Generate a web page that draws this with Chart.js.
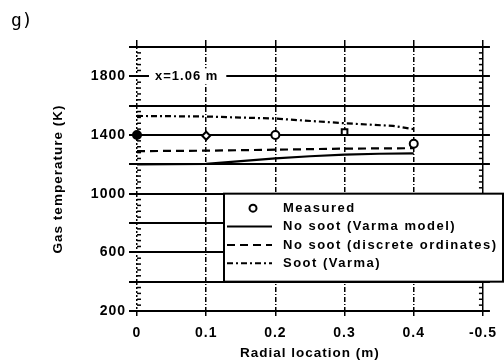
<!DOCTYPE html>
<html><head><meta charset="utf-8">
<script src="https://cdn.jsdelivr.net/npm/chart.js@4.4.1/dist/chart.umd.min.js"></script>
<style>html,body{margin:0;padding:0;background:#fff;} canvas{display:block;}</style>
</head><body>
<canvas id="c" width="504" height="364"></canvas>
<script>
const radialTicks = [0, 0.1, 0.2, 0.3, 0.4, 0.5];
const xTickLabels = ['0', '0.1', '0.2', '0.3', '0.4', '-0.5'];
const yTickLabels = [200, 600, 1000, 1400, 1800];
const measuredR = [0, 0.1, 0.2, 0.3, 0.4];
const measuredT = [1400, 1395, 1400, 1420, 1340];
const varmaR = [0, 0.1, 0.15, 0.2, 0.25, 0.3, 0.35, 0.4];
const varmaT = [1200, 1203, 1222, 1240, 1255, 1266, 1272, 1275];
const discreteR = [0, 0.1, 0.2, 0.3, 0.4];
const discreteT = [1290, 1293, 1300, 1307, 1310];
const sootR = [0, 0.1, 0.2, 0.3, 0.37, 0.4];
const sootT = [1530, 1526, 1512, 1480, 1462, 1440];
const seriesLabels = ['Measured', 'No soot (Varma model)', 'No soot (discrete ordinates)', 'Soot (Varma)'];
const panelLabel = 'g)';
const locationNote = 'x=1.06 m';

const zip = (xs, ys) => xs.map((x, i) => ({x: x, y: ys[i]}));
const FONT = "'Liberation Sans', Arial, sans-serif";
Chart.defaults.font.family = FONT;
Chart.defaults.color = '#000';

const setTicks = s => { s.ticks = radialTicks.map(v => ({value: v})); };

const spacing = {
  id: 'spacing',
  beforeDraw(chart) { chart.ctx.letterSpacing = '1px'; }
};

const extras = {
  id: 'extras',
  afterDraw(chart) {
    const ctx = chart.ctx;
    const xs = chart.scales.x, ys = chart.scales.y;
    ctx.save();
    ctx.letterSpacing = '0px';
    // panel label
    ctx.fillStyle = '#000';
    ctx.font = "18px 'DejaVu Sans Mono', monospace";
    ctx.textBaseline = 'middle';
    ctx.textAlign = 'left';
    ctx.fillText(panelLabel, 11, 21);
    // minor ticks on left and right frame
    ctx.strokeStyle = '#000';
    ctx.lineWidth = 1.5;
    const xl = xs.getPixelForValue(0), xr = xs.getPixelForValue(0.5);
    for (let v = 240; v < 2000; v += 40) {
      if (v % 200 === 0) continue;
      const py = ys.getPixelForValue(v);
      ctx.beginPath(); ctx.moveTo(xl, py); ctx.lineTo(xl + 4, py); ctx.stroke();
      ctx.beginPath(); ctx.moveTo(xr - 4, py); ctx.lineTo(xr, py); ctx.stroke();
    }
    // location note
    ctx.letterSpacing = '1px';
    ctx.font = "bold 13px " + FONT;
    const nx = xs.getPixelForValue(0.026), ny = ys.getPixelForValue(1800);
    const w = ctx.measureText(locationNote).width;
    ctx.fillStyle = '#fff';
    ctx.fillRect(nx - 6, ny - 8, w + 14, 16);
    ctx.fillStyle = '#000';
    ctx.fillText(locationNote, nx, ny);
    // legend box
    const top = ys.getPixelForValue(1000), bottom = ys.getPixelForValue(400);
    const left = 224, right = 503;
    ctx.fillStyle = '#fff';
    ctx.fillRect(left, top, right - left, bottom - top);
    ctx.lineWidth = 2;
    ctx.strokeRect(left, top, right - left, bottom - top);
    chart.data.datasets.forEach((ds, i) => {
      const ry = top + 14.5 + i * 18.4;
      if (ds.showLine === false) {
        ctx.beginPath();
        ctx.arc(253, ry, 3.5, 0, Math.PI * 2);
        ctx.fillStyle = '#fff'; ctx.fill();
        ctx.lineWidth = 2; ctx.strokeStyle = '#000'; ctx.stroke();
      } else {
        ctx.beginPath();
        ctx.setLineDash(ds.borderDash || []);
        ctx.lineWidth = 2; ctx.strokeStyle = '#000';
        ctx.moveTo(227, ry); ctx.lineTo(272, ry); ctx.stroke();
        ctx.setLineDash([]);
      }
      ctx.fillStyle = '#000';
      ctx.letterSpacing = '1.5px';
      ctx.font = "bold 13px " + FONT;
      ctx.textAlign = 'left';
      ctx.textBaseline = 'middle';
      ctx.fillText(ds.label, 283, ry);
    });
    ctx.restore();
  }
};

new Chart(document.getElementById('c'), {
  type: 'line',
  data: {
    datasets: [
      {label: seriesLabels[0], data: zip(measuredR, measuredT), showLine: false, clip: false,
       pointStyle: ['circle', 'rectRot', 'circle', 'rect', 'circle'],
       pointBackgroundColor: ['#000', '#fff', '#fff', '#fff', '#fff'],
       pointBorderColor: '#000', pointBorderWidth: 2, pointRadius: 4, borderColor: '#000'},
      {label: seriesLabels[1], data: zip(varmaR, varmaT), borderColor: '#000', borderWidth: 2.2,
       pointRadius: 0, tension: 0, fill: false},
      {label: seriesLabels[2], data: zip(discreteR, discreteT), borderColor: '#000', borderWidth: 2.2,
       borderDash: [8, 5], pointRadius: 0, tension: 0, fill: false},
      {label: seriesLabels[3], data: zip(sootR, sootT), borderColor: '#000', borderWidth: 2.2,
       borderDash: [6, 3, 2, 3], pointRadius: 0, tension: 0, fill: false}
    ]
  },
  options: {
    responsive: false,
    animation: false,
    devicePixelRatio: 1,
    layout: {padding: 0},
    plugins: {legend: {display: false}, tooltip: {enabled: false}},
    scales: {
      x: {type: 'linear', position: 'bottom', min: 0, max: 0.5,
          afterBuildTicks: setTicks,
          ticks: {callback: (v, i) => xTickLabels[i], font: {size: 14, weight: 'bold'}, padding: 9,
                  maxRotation: 0, autoSkip: false},
          grid: {color: '#000', lineWidth: 1.5, tickLength: 5},
          border: {display: false, dash: c => (c.tick && c.tick.value === 0.5) ? [] : (c.tick && c.tick.value === 0 ? [2, 2] : [5, 2, 1, 2])},
          title: {display: true, text: 'Radial location (m)', font: {size: 13.5, weight: 'bold'}, padding: {top: 0, bottom: 3}},
          afterFit: s => { s.height = 53; }},
      xTop: {type: 'linear', position: 'top', min: 0, max: 0.5,
          afterBuildTicks: setTicks,
          ticks: {display: false},
          grid: {drawOnChartArea: false, color: '#000', lineWidth: 1.5, tickLength: 7},
          border: {display: false},
          afterFit: s => { s.height = 47; }},
      y: {type: 'linear', position: 'left', min: 200, max: 2000,
          ticks: {stepSize: 200, callback: v => yTickLabels.includes(v) ? String(v) : '', font: {size: 14, weight: 'bold'}, padding: 3},
          grid: {color: '#000', lineWidth: 2, tickLength: 8},
          border: {display: false},
          title: {display: true, text: 'Gas temperature (K)', font: {size: 13.5, weight: 'bold'}, padding: {top: 50, bottom: 0}},
          afterFit: s => { s.width = 137; }},
      yRight: {type: 'linear', position: 'right', min: 200, max: 2000,
          ticks: {stepSize: 200, display: false},
          grid: {drawOnChartArea: false, color: '#000', lineWidth: 2, tickLength: 7},
          border: {display: false},
          afterFit: s => { s.width = 18; }}
    }
  },
  plugins: [spacing, extras]
});
</script>
</body></html>
